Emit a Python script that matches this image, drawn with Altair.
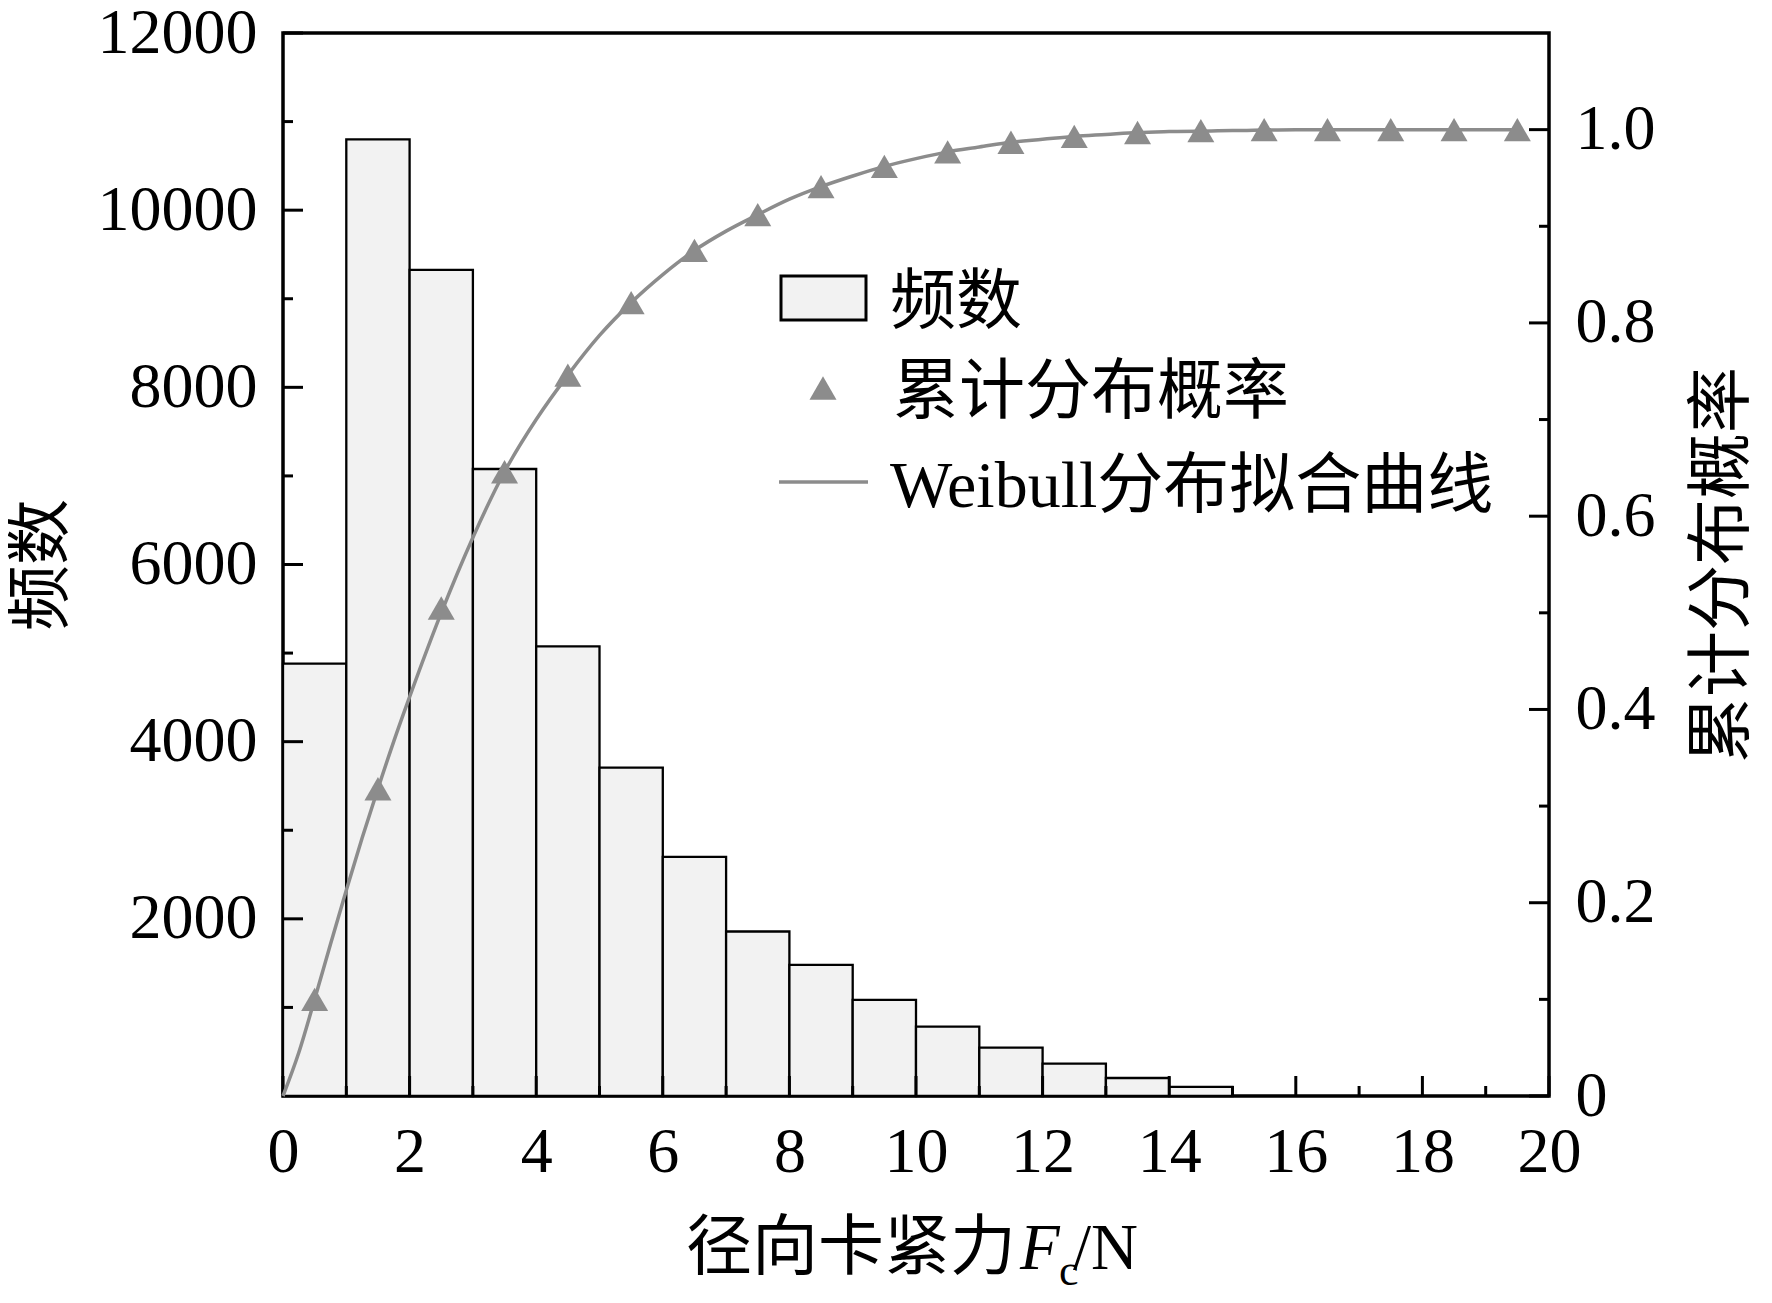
import altair as alt
import pandas as pd

# ---------------- data ----------------
BIN_LEFT = [0, 1, 2, 3, 4, 5, 6, 7, 8, 9, 10, 11, 12, 13, 14]
BIN_RIGHT = [1, 2, 3, 4, 5, 6, 7, 8, 9, 10, 11, 12, 13, 14, 15]
COUNTS = [4880, 10800, 9325, 7078, 5075, 3706, 2700, 1857, 1480, 1085, 783, 546, 365, 203, 102]

CDF_X = [0.5, 1.5, 2.5, 3.5, 4.5, 5.5, 6.5, 7.5, 8.5, 9.5,
         10.5, 11.5, 12.5, 13.5, 14.5, 15.5, 16.5, 17.5, 18.5, 19.5]
CDF_Y = [0.100, 0.318, 0.505, 0.646, 0.746, 0.821, 0.875, 0.912, 0.941, 0.962,
         0.977, 0.987, 0.993, 0.997, 0.999, 1.0, 1.0, 1.0, 1.0, 1.0]

FIT_X = [0, 0.25, 0.5, 0.75, 1, 1.25, 1.5, 1.75, 2, 2.5, 3, 3.5, 4, 4.5, 5, 5.5, 6, 6.5,
         7, 7.5, 8, 8.5, 9, 9.5, 10, 10.5, 11, 11.5, 12, 12.5, 13, 13.5, 14, 15, 16,
         17, 18, 19, 19.5]
FIT_Y = [0, 0.045, 0.100, 0.157, 0.213, 0.267, 0.318, 0.367, 0.413, 0.500, 0.578, 0.646,
         0.700, 0.746, 0.787, 0.821, 0.850, 0.875, 0.895, 0.912, 0.928, 0.941, 0.952,
         0.962, 0.970, 0.977, 0.982, 0.987, 0.990, 0.993, 0.995, 0.997, 0.998, 0.999,
         1.0, 1.0, 1.0, 1.0, 1.0]

X_TICKS = [0, 2, 4, 6, 8, 10, 12, 14, 16, 18, 20]
X_MINOR = [1, 3, 5, 7, 9, 11, 13, 15, 17, 19]
YL_TICKS = [2000, 4000, 6000, 8000, 10000, 12000]
YL_MINOR = [1000, 3000, 5000, 7000, 9000, 11000]
YR_TICKS = [0, 0.2, 0.4, 0.6, 0.8, 1.0]
YR_MINOR = [0.1, 0.3, 0.5, 0.7, 0.9]

LEGEND_LABELS = ["频数", "累计分布概率", "Weibull分布拟合曲线"]
Y_LEFT_TITLE = "频数"
Y_RIGHT_TITLE = "累计分布概率"
X_TITLE_PARTS = ["径向卡紧力", "F", "c", "/N"]

# ---------------- styles ----------------
W, H = 1266, 1063
FONT = "Liberation Serif, Noto Sans CJK SC"
FS = 64      # tick labels
FT = 66      # titles / legend text
GRAY = "#8c8c8c"
BAR_FILL = "#f2f2f2"
MAJ, MIN = 20, 10
TICK_W = 3

xs = alt.Scale(domain=[0, 20], nice=False, zero=False)
yls = alt.Scale(domain=[0, 12000], nice=False)
yrs = alt.Scale(domain=[0, 1.1], nice=False)

x_axis = alt.Axis(values=X_TICKS, format="d", ticks=False, domain=False, grid=False,
                  labelFont=FONT, labelFontSize=FS, labelColor="black",
                  labelPadding=24, labelFlush=False, labelOverlap=False, title=None)


def X(field, **kw):
    return alt.X(field, type="quantitative", scale=xs, axis=x_axis, **kw)


bars_df = pd.DataFrame({"l": BIN_LEFT, "r": BIN_RIGHT, "n": COUNTS})
cdf_df = pd.DataFrame({"x": CDF_X, "p": CDF_Y})
fit_df = pd.DataFrame({"x": FIT_X, "p": FIT_Y})

bars = alt.Chart(bars_df).mark_rect(fill=BAR_FILL, stroke="black", strokeWidth=2.3).encode(
    x=X("l"),
    x2="r",
    y=alt.Y("n:Q", scale=yls,
            axis=alt.Axis(values=YL_TICKS, format="d", ticks=False, domain=False, grid=False,
                          labelFont=FONT, labelFontSize=FS, labelColor="black",
                          labelPadding=26, labelOverlap=False,
                          title=Y_LEFT_TITLE, titleFont=FONT, titleFontSize=FT,
                          titleFontWeight="normal", titleColor="black", titlePadding=22)),
    y2=alt.datum(0),
)


def yticks(vals, scale, x0, x1):
    return alt.Chart(pd.DataFrame({"v": vals})).mark_rule(color="black", strokeWidth=TICK_W).encode(
        y=alt.Y("v:Q", scale=scale, axis=None),
        x=alt.value(x0), x2=alt.value(x1),
    )


def xticks(vals, length):
    return alt.Chart(pd.DataFrame({"v": vals})).mark_rule(color="black", strokeWidth=TICK_W).encode(
        x=X("v"),
        y=alt.value(H), y2=alt.value(H - length),
    )


left_major = yticks(YL_TICKS, yls, 0, MAJ)
left_minor = yticks(YL_MINOR, yls, 0, MIN)
right_major = yticks(YR_TICKS, yrs, W, W - MAJ)
right_minor = yticks(YR_MINOR, yrs, W, W - MIN)
bottom_major = xticks(X_TICKS, MAJ)
bottom_minor = xticks(X_MINOR, MIN)

line = alt.Chart(fit_df).mark_line(color=GRAY, strokeWidth=3.5, interpolate="monotone").encode(
    x=X("x"),
    y=alt.Y("p:Q", scale=yrs, axis=None),
)

points = alt.Chart(cdf_df).mark_point(shape="triangle-up", filled=True, size=729,
                                      color=GRAY, opacity=1).encode(
    x=X("x"),
    y=alt.Y("p:Q", scale=yrs,
            axis=alt.Axis(orient="right", values=YR_TICKS, ticks=False, domain=False, grid=False,
                          labelExpr="datum.value == 0 ? '0' : format(datum.value, '.1f')",
                          labelFont=FONT, labelFontSize=FS, labelColor="black",
                          labelPadding=26, labelOverlap=False,
                          title=Y_RIGHT_TITLE, titleFont=FONT, titleFontSize=FT,
                          titleFontWeight="normal", titleColor="black",
                          titleAngle=270, titleBaseline="top", titlePadding=35)),
)

one = pd.DataFrame({"k": [0]})

leg_rect = alt.Chart(one).mark_rect(fill=BAR_FILL, stroke="black", strokeWidth=3).encode(
    x=alt.value(498), x2=alt.value(583), y=alt.value(243), y2=alt.value(287))
leg_tri = alt.Chart(one).mark_point(shape="triangle-up", filled=True, size=729,
                                    color=GRAY, opacity=1).encode(
    x=alt.value(540), y=alt.value(355))
leg_line = alt.Chart(one).mark_rule(color=GRAY, strokeWidth=3.5).encode(
    x=alt.value(496), x2=alt.value(585), y=alt.value(449))


def txt(s, x, y, size=FT, style="normal", font=FONT):
    return alt.Chart(one).mark_text(text=s, font=font, fontSize=size, fontStyle=style,
                                    color="black", align="left", baseline="alphabetic").encode(
        x=alt.value(x), y=alt.value(y))


leg_t1 = txt(LEGEND_LABELS[0], 607, 290)
leg_t2 = txt(LEGEND_LABELS[1], 610, 380)
leg_t3 = txt(LEGEND_LABELS[2], 607, 474)

xt1 = txt(X_TITLE_PARTS[0], 403, 1236)
xt2 = txt(X_TITLE_PARTS[1], 737, 1236, size=65, style="italic", font="Liberation Serif")
xt3 = txt(X_TITLE_PARTS[2], 776, 1252, size=44, font="Liberation Serif")
xt4 = txt(X_TITLE_PARTS[3], 790, 1236, size=65, font="Liberation Serif")

chart = alt.layer(
    bars, left_major, left_minor, right_major, right_minor, bottom_major, bottom_minor,
    line, points, leg_rect, leg_tri, leg_line, leg_t1, leg_t2, leg_t3,
    xt1, xt2, xt3, xt4,
).resolve_scale(y="independent").properties(
    width=W, height=H,
    autosize=alt.AutoSizeParams(type="none"),
    padding={"left": 275, "top": 25, "right": 215, "bottom": 199},
    background="white",
).configure_view(stroke="black", strokeWidth=3.5)

chart.save("out.html", embed_options={"renderer": "svg", "actions": False})
